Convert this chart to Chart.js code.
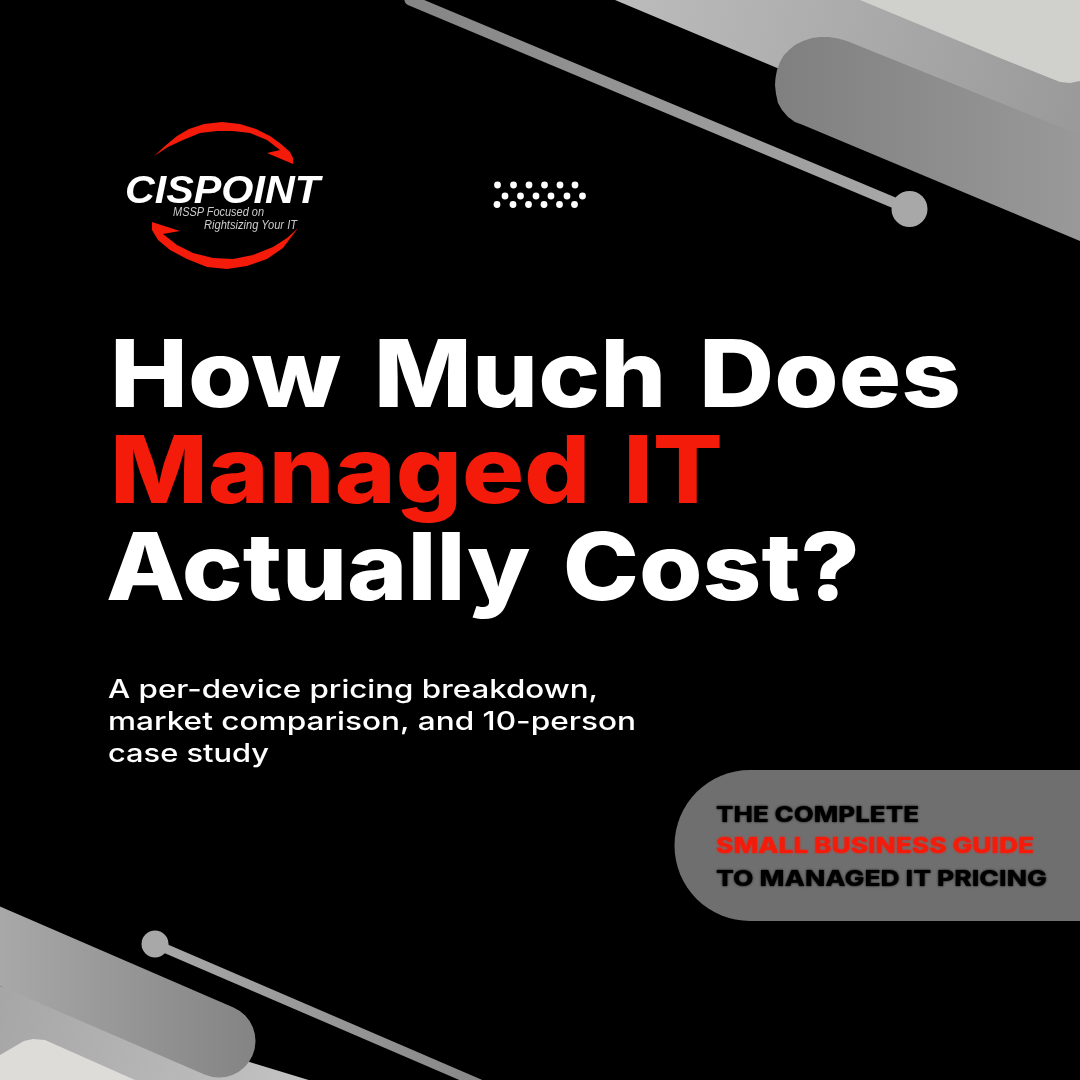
<!DOCTYPE html>
<html>
<head>
<meta charset="utf-8">
<script src="https://cdn.jsdelivr.net/npm/chart.js@4/dist/chart.umd.js"></script>
<style>
html, body { margin: 0; padding: 0; background: #000; }
#wrap { position: relative; width: 1080px; height: 1080px; overflow: hidden; background: #000; }
#poster { position: absolute; left: 0; top: 0; }
.t { position: absolute; white-space: nowrap; transform-origin: 0 0; line-height: 1; }
.title { font-family: Inter; font-weight: 800; font-size: 93px; color: #fff; word-spacing: 9px; }
.sub { font-family: Inter; font-weight: 500; font-size: 25.5px; color: #fff; }
.tag { font-family: Inter; font-weight: 800; font-size: 21.5px; color: #000; text-shadow: 0 0 2px currentColor; }
.red { color: #f51b0a; }
.logo { font-family: "Liberation Sans"; font-weight: 700; font-style: italic; font-size: 39px; color: #fff; }
.slogan { font-family: "Liberation Sans"; font-style: italic; font-size: 12.5px; color: #ccc; }
</style>
</head>
<body>
<div id="wrap">
  <canvas id="poster" width="1080" height="1080"></canvas>
  <div class="t logo" data-w="195" style="left:125px;top:170px">CISPOINT</div>
  <div class="t slogan" data-w="91" style="left:173px;top:206px">MSSP Focused on</div>
  <div class="t slogan" data-w="93" style="left:204px;top:218.5px">Rightsizing Your IT</div>
  <div class="t title" data-w="851" style="left:110px;top:327px">How Much Does</div>
  <div class="t title red" data-w="613" style="left:110px;top:423px">Managed IT</div>
  <div class="t title" data-w="754" style="left:106px;top:520px">Actually Cost?</div>
  <div class="t sub" data-w="490" style="left:108px;top:676px">A per-device pricing breakdown,</div>
  <div class="t sub" data-w="528" style="left:108px;top:708px">market comparison, and 10-person</div>
  <div class="t sub" data-w="161" style="left:108px;top:740px">case study</div>
  <div class="t tag" data-w="203" style="left:716px;top:803.7px">THE COMPLETE</div>
  <div class="t tag red" data-w="318" style="left:716px;top:835.4px">SMALL BUSINESS GUIDE</div>
  <div class="t tag" data-w="331" style="left:716px;top:868px">TO MANAGED IT PRICING</div>
</div>
<script>
// everything sits on hidden 0-1080 axes
const topThinX = [410, 909];
const topThinY = [0, 209];
const topPillX = [1080, 847, 838, 829, 820, 812, 803, 795, 789, 784, 780, 777, 775.5, 775, 776, 778, 782, 788, 795, 803, 1080];
const topPillY = [135, 41, 38.5, 37, 37, 38, 41, 45, 50, 55, 62, 70, 78, 85, 94, 103, 110, 117, 122, 125, 241];
const topBandX = [615, 1080, 1080, 860];
const topBandY = [0, 195, 0, 0];
const topLightX = [860, 1000, 1050, 1060, 1070, 1080, 1080];
const topLightY = [0, 58, 78, 82, 83, 81, 0];

const lowThinX = [155, 480];
const lowThinY = [944, 1084];
const lowPillX = [-40, 219];
const lowPillY = [929, 1041];
const lowBandX = [0, 325, 0];
const lowBandY = [986, 1085, 1085];
const lowLightX = [0, 24, 33, 45, 135, 0];
const lowLightY = [1055, 1041, 1039, 1040, 1080, 1080];

const badgeX = [750, 1200];
const badgeY = [845.5, 845.5];

const dotsX = [497.5, 513.5, 529, 544.5, 560, 575, 505, 520.5, 536, 551, 567, 582.5, 497, 513, 528.5, 544, 559.5, 574.5];
const dotsY = [185, 185, 185, 185, 185, 185, 196, 196, 196, 196, 196, 196, 204.5, 204.5, 204.5, 204.5, 204.5, 204.5];

const arcTopX = [154, 165, 177, 189, 204, 222, 240, 256, 270, 281, 290, 293, 293, 267, 280, 267, 250, 233, 217, 200, 183, 168];
const arcTopY = [156, 146, 136, 129, 124, 122, 124, 129, 136, 144, 152, 158, 164, 153, 150, 140, 133, 131, 131, 133, 140, 147];
const arcLowX = [152, 180, 163, 177, 193, 213, 233, 253, 273, 287, 298, 283, 267, 247, 227, 207, 187, 170, 158, 152];
const arcLowY = [222, 231, 234, 245, 253, 258, 259, 255, 247, 238, 228, 248, 259, 266, 269, 267, 259, 250, 240, 230];

const pairs = (xs, ys) => xs.map((x, i) => ({ x, y: ys[i] }));

const ctx = document.getElementById('poster').getContext('2d');

function grad(x0, y0, x1, y1, from, to) {
    const g = ctx.createLinearGradient(x0, y0, x1, y1);
    g.addColorStop(0, from);
    g.addColorStop(1, to);
    return g;
}

function shape(xs, ys, fill) {
    return { data: pairs(xs, ys), showLine: true, fill: 'shape', backgroundColor: fill, borderWidth: 0, pointRadius: 0 };
}

function stroke(xs, ys, width, color) {
    return { data: pairs(xs, ys), showLine: true, fill: false, borderColor: color, borderWidth: width, borderCapStyle: 'round', pointRadius: 0 };
}

function knob(x, y, r, color) {
    return { data: [{ x, y }], showLine: false, pointRadius: r, pointBackgroundColor: color, pointBorderWidth: 0 };
}

// listed back to front, chart.js paints the first dataset last so flip it
const layers = [
    shape(topBandX, topBandY, grad(615, 0, 1080, 100, '#bcbcbc', '#9a9a9a')),
    shape(topLightX, topLightY, '#d0d0cc'),
    shape(topPillX, topPillY, grad(780, 0, 1080, 0, '#808080', '#999999')),
    stroke(topThinX, topThinY, 11, grad(410, 0, 909, 0, '#858585', '#a8a8a8')),
    knob(909.5, 209, 18, '#a8a8a8'),
    shape(lowBandX, lowBandY, grad(0, 986, 320, 1080, '#a6a6a6', '#c4c4c4')),
    shape(lowLightX, lowLightY, '#dddcd8'),
    stroke(lowPillX, lowPillY, 73, grad(0, 0, 255, 0, '#a8a8a8', '#848484')),
    stroke(lowThinX, lowThinY, 9, grad(155, 0, 480, 0, '#a8a8a8', '#888888')),
    knob(155, 944, 13.5, '#a8a8a8'),
    stroke(badgeX, badgeY, 151, '#6f6f6f'),
    shape(arcTopX, arcTopY, '#f51b0a'),
    shape(arcLowX, arcLowY, '#f51b0a'),
    { data: pairs(dotsX, dotsY), showLine: false, pointRadius: 3.4, pointBackgroundColor: '#ffffff', pointBorderWidth: 0 }
].reverse();

new Chart(ctx, {
    type: 'scatter',
    data: { datasets: layers },
    options: {
        responsive: false,
        animation: false,
        layout: { padding: 0, autoPadding: false },
        plugins: { legend: { display: false }, tooltip: { enabled: false } },
        scales: {
            x: { type: 'linear', display: false, min: 0, max: 1080 },
            y: { type: 'linear', display: false, min: 0, max: 1080, reverse: true }
        }
    }
});

// none of the installed fonts is as wide as the poster's, stretch each line to its width
document.querySelectorAll('[data-w]').forEach(el => {
    const w = el.getBoundingClientRect().width;
    el.style.transform = `scaleX(${el.dataset.w / w})`;
});
</script>
</body>
</html>
